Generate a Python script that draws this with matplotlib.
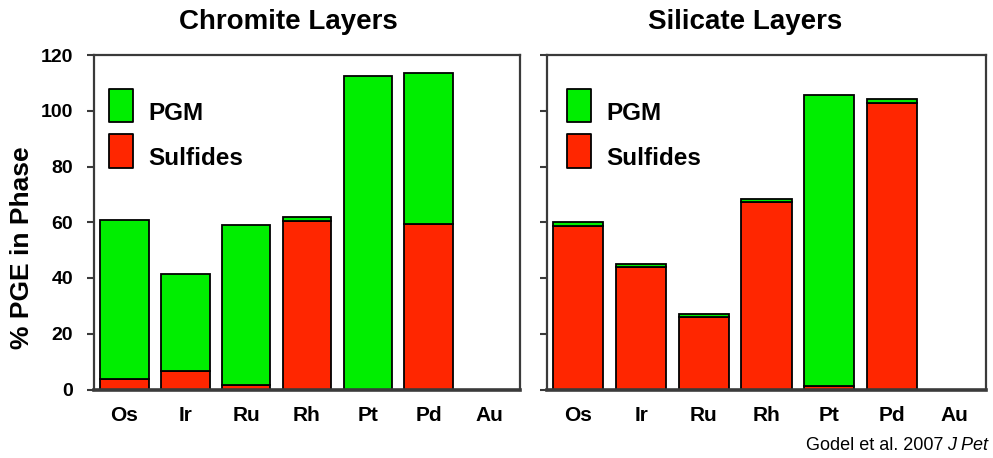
import matplotlib
matplotlib.use("Agg")
import matplotlib.pyplot as plt
from matplotlib.patches import Rectangle

# PGE distribution between phases (% of element hosted in each phase)
elements = ["Os", "Ir", "Ru", "Rh", "Pt", "Pd", "Au"]

chromite_sulfides = [3.8, 6.5, 1.5, 60.5, 0.0, 59.5, 0.0]
chromite_pgm = [57.0, 35.0, 57.5, 1.5, 112.5, 54.0, 0.0]

silicate_sulfides = [58.7, 43.9, 25.9, 67.1, 1.3, 102.8, 0.0]
silicate_pgm = [1.4, 1.3, 1.3, 1.4, 104.2, 1.3, 0.0]

y_ticks = [0, 20, 40, 60, 80, 100, 120]
panel_titles = ["Chromite Layers", "Silicate Layers"]
series_labels = ["PGM", "Sulfides"]

GREEN = "#00EE00"
RED = "#FF2600"
SPINE = "#3a3a3a"

W, H = 993, 458
plt.rcParams["font.family"] = ["Liberation Sans", "DejaVu Sans"]

fig = plt.figure(figsize=(W / 100, H / 100), dpi=100)


def fx(px):
    return px / W


def fy(py):
    return 1 - py / H


ax_l = fig.add_axes([fx(94), fy(389.5), 426 / W, 334.5 / H])
ax_r = fig.add_axes([fx(547), fy(389.5), 439 / W, 334.5 / H])

panels = [
    (ax_l, chromite_sulfides, chromite_pgm, True, 109),
    (ax_r, silicate_sulfides, silicate_pgm, False, 567),
]

x = list(range(len(elements)))
for ax, sulf, pgm, show_ylabels, key_x in panels:
    ax.bar(x, sulf, width=0.8, color=RED, edgecolor="black", linewidth=1.3,
           zorder=2)
    ax.bar(x, pgm, width=0.8, bottom=sulf, color=GREEN, edgecolor="black",
           linewidth=1.3, zorder=2)
    ax.set_xlim(-0.5, 6.5)
    ax.set_ylim(0, 120)
    ax.set_yticks(y_ticks)
    ax.set_xticks(x)
    ax.set_xticklabels(elements)
    for s in ax.spines.values():
        s.set_color(SPINE)
        s.set_linewidth(1.6)
    ax.spines["bottom"].set_linewidth(2.6)
    ax.spines["bottom"].set_zorder(3)
    ax.tick_params(axis="x", length=0, pad=12)
    ax.tick_params(axis="y", length=5, width=1.5, color=SPINE, pad=10)
    for lab in ax.get_xticklabels():
        lab.set_fontweight("bold")
        lab.set_fontsize(15)
    if show_ylabels:
        for lab in ax.get_yticklabels():
            lab.set_fontweight("bold")
            lab.set_fontsize(14)
    else:
        ax.set_yticklabels([])

    # key: coloured swatches with bold labels
    for (top, bottom, base), color, label in zip(
            [(89, 122, 120), (134, 168, 165)], [GREEN, RED], series_labels):
        fig.add_artist(Rectangle((fx(key_x), fy(bottom)), 24 / W,
                                 (bottom - top) / H, transform=fig.transFigure,
                                 facecolor=color, edgecolor="black",
                                 linewidth=1.3, joinstyle="round"))
        fig.text(fx(key_x + 39), fy(base), label, ha="left", va="baseline",
                 fontsize=17.5, fontweight="bold")

fig.text(fx(22), fy(248), "% PGE in Phase", rotation=90, ha="center",
         va="center", fontsize=19, fontweight="bold")

fig.text(fx(288), fy(22), panel_titles[0], ha="center", va="center",
         fontsize=20, fontweight="bold")
fig.text(fx(745), fy(22), panel_titles[1], ha="center", va="center",
         fontsize=20, fontweight="bold")

# citation: regular text followed by the italic journal abbreviation
cite_y = fy(445)
journal = fig.text(fx(988), cite_y, "J Pet", ha="right", va="center",
                   fontsize=13, fontstyle="italic")
fig.canvas.draw()
bb = journal.get_window_extent()
fig.text(bb.x0 / fig.bbox.width + 0.001, cite_y, "Godel et al. 2007 ",
         ha="right", va="center", fontsize=13)

fig.savefig("out.png", dpi=100)
